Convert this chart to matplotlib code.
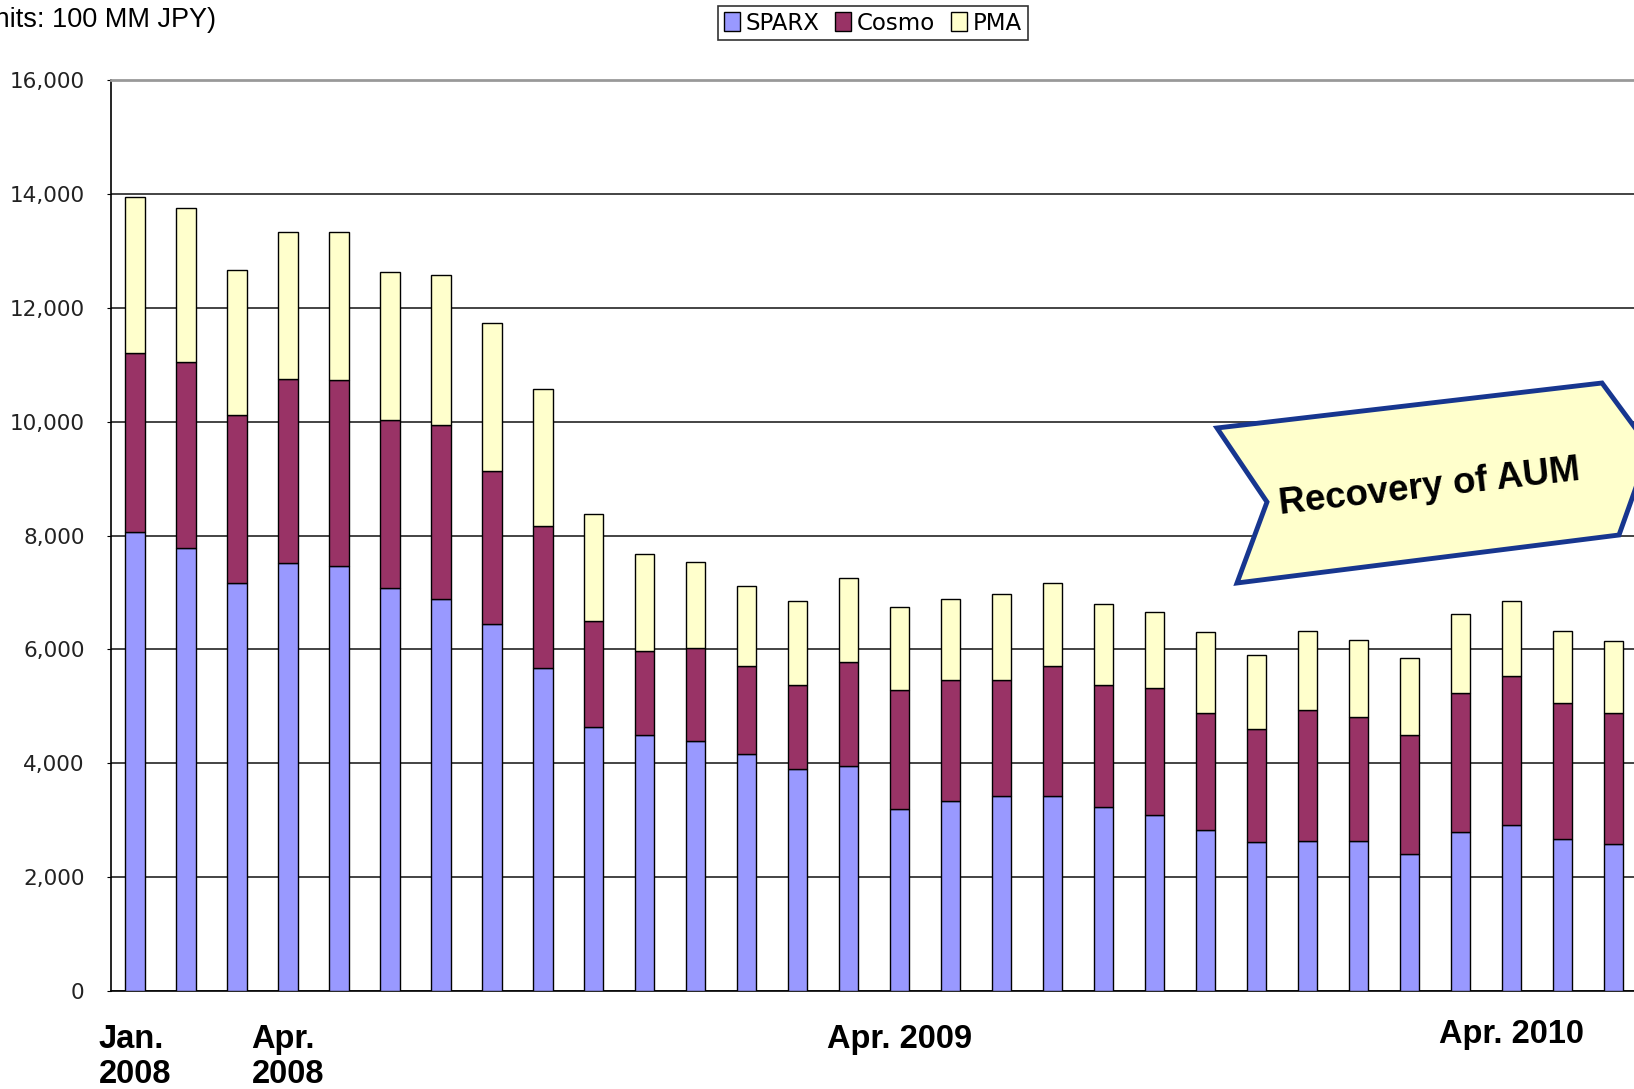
import matplotlib
matplotlib.use("Agg")
import matplotlib.pyplot as plt
from matplotlib.patches import Polygon
import numpy as np

months = ['Jan.\n2008', '', '', 'Apr.\n2008', '', '', '', '', '', '', '', '', '', '', '',
          'Apr. 2009', '', '', '', '', '', '', '', '', '', '', '', 'Apr. 2010', '', '']
sparx = [8070, 7780, 7160, 7510, 7470, 7070, 6880, 6440, 5680, 4630, 4490, 4390, 4160, 3900,
         3950, 3190, 3330, 3420, 3420, 3240, 3090, 2820, 2620, 2640, 2640, 2400, 2800, 2910,
         2670, 2580]
cosmo_top = [11200, 11040, 10120, 10750, 10730, 10030, 9940, 9140, 8170, 6500, 5970, 6020,
             5710, 5380, 5770, 5290, 5470, 5460, 5710, 5380, 5330, 4890, 4600, 4940, 4820,
             4490, 5240, 5530, 5050, 4890]
totals = [13950, 13750, 12670, 13330, 13330, 12630, 12580, 11740, 10580, 8370, 7670, 7540,
          7120, 6850, 7250, 6740, 6880, 6980, 7160, 6790, 6660, 6300, 5900, 6330, 6170, 5840,
          6630, 6850, 6330, 6150]
cosmo = [c - s for c, s in zip(cosmo_top, sparx)]
pma = [t - c for t, c in zip(totals, cosmo_top)]
yticks = [0, 2000, 4000, 6000, 8000, 10000, 12000, 14000, 16000]

W, H = 1634, 1089
fig = plt.figure(figsize=(W / 100, H / 100), dpi=100)
ax = fig.add_axes([111 / W, 98 / H, (1643 - 111) / W, (991 - 80) / H])

x = np.arange(len(sparx))
bw = 0.38
b1 = ax.bar(x, sparx, bw, color='#9999FF', edgecolor='black', linewidth=1, label='SPARX', zorder=3)
b2 = ax.bar(x, cosmo, bw, bottom=sparx, color='#993366', edgecolor='black', linewidth=1,
            label='Cosmo', zorder=3)
b3 = ax.bar(x, pma, bw, bottom=cosmo_top, color='#FFFFCC', edgecolor='black', linewidth=1,
            label='PMA', zorder=3)

ax.set_xlim(-0.47, 29.58)
ax.set_ylim(0, 16000)
ax.set_yticks(yticks)
ax.set_yticklabels([f'{v:,}' for v in yticks], fontsize=15.5, color='#222222')
ax.yaxis.grid(True, color='#111111', linewidth=1.1, zorder=0)
ax.set_axisbelow(True)
ax.tick_params(axis='y', length=3, pad=16)
ax.tick_params(axis='x', length=0)
ax.set_xticks([])
ax.spines['right'].set_visible(False)
ax.spines['top'].set_color('#999999')
ax.spines['top'].set_linewidth(2)
ax.spines['left'].set_linewidth(1.2)
ax.spines['bottom'].set_linewidth(1.2)

for i, lab in enumerate(months):
    if lab:
        off = 24 if i != 27 else 20
        ax.annotate(lab, xy=(i, 0), xycoords=('data', 'axes fraction'), xytext=(0, -off),
                    textcoords='offset points', ha='center', va='top', multialignment='left',
                    fontsize=23.5, fontweight='bold', family='Liberation Sans', linespacing=1.15,
                    annotation_clip=False)

fig.text(216 / W, 1 - 20 / H, '(Units: 100 MM JPY)', ha='right', va='center', fontsize=19.5,
         family='Liberation Sans')

leg = fig.legend(handles=[b1, b2, b3], labels=['SPARX', 'Cosmo', 'PMA'], loc='center',
                 bbox_to_anchor=(873 / W, 1 - 23 / H), ncol=3, fontsize=16.5, frameon=True,
                 fancybox=False, edgecolor='black', handlelength=0.7, handleheight=0.9,
                 handletextpad=0.25, columnspacing=0.7, borderpad=0.25)
leg.get_frame().set_linewidth(1.2)

pts = [(1217, 428), (1602, 383), (1650, 448), (1619, 535), (1237, 583), (1267, 502)]
poly = Polygon([(px / W, 1 - py / H) for px, py in pts], closed=True, transform=fig.transFigure,
               facecolor='#FFFFCC', edgecolor='#17368F', linewidth=3.5, zorder=10, clip_on=False)
fig.patches.append(poly)
fig.text(1429 / W, 1 - 487 / H, 'Recovery of AUM', ha='center', va='center', rotation=6.5,
         fontsize=26.5, fontweight='bold', family='Liberation Sans', zorder=11)

fig.savefig('out.png', dpi=100)
